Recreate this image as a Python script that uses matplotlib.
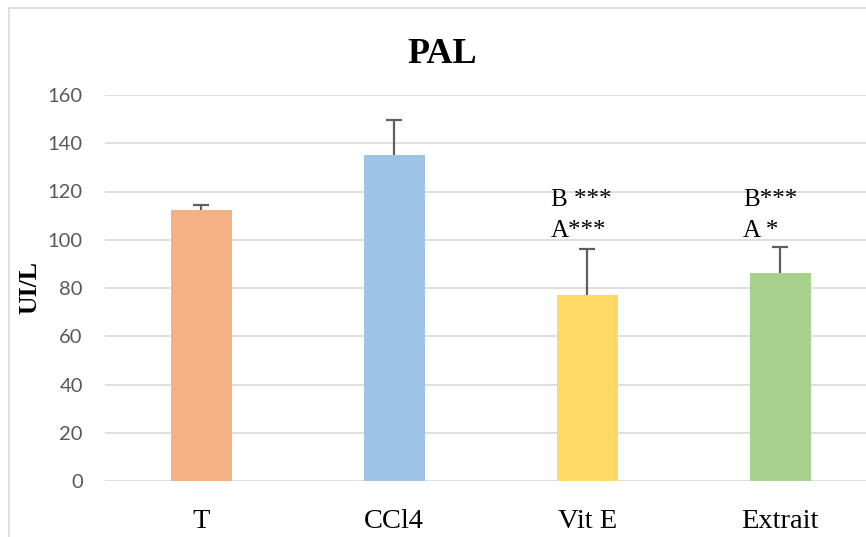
import matplotlib
matplotlib.use("Agg")
import matplotlib.pyplot as plt
from matplotlib.patches import Rectangle

categories = ["T", "CCl4", "Vit E", "Extrait"]
values = [112.3, 135.1, 77.1, 86.2]
errors = [2.1, 14.4, 19.0, 10.9]
colors = ["#F4B183", "#9DC3E6", "#FFD966", "#A9D18E"]
annot_top = ["", "", "B ***", "B***"]
annot_bottom = ["", "", "A***", "A *"]
yticks = [0, 20, 40, 60, 80, 100, 120, 140, 160]

W, H = 866, 537
fig = plt.figure(figsize=(W / 100, H / 100), dpi=100)

# chart frame border
fig.patches.append(Rectangle((9 / W, -0.1), 1.2, 1 - 8 / H + 0.1,
                             transform=fig.transFigure, fill=False,
                             edgecolor="#d9d9d9", linewidth=1.2, zorder=0))

ax = fig.add_axes([105 / W, 1 - 481 / H, (876.5 - 105) / W, (481 - 95) / H])
x = list(range(len(categories)))
ax.bar(x, values, width=0.316, color=colors, zorder=2)
eb = ax.errorbar(x, values, yerr=[[0] * len(errors), errors], fmt="none",
                 ecolor="#5f5f5f", elinewidth=1.6, capsize=6, capthick=1.6, zorder=3)
# keep only the upper caps
for cl in eb[1]:
    ys = cl.get_ydata()
    if all(abs(a - b) < 1e-9 for a, b in zip(ys, values)):
        cl.set_visible(False)

ax.set_xlim(-0.5, len(categories) - 0.5)
ax.set_ylim(0, 160)
ax.set_yticks(yticks)
ax.set_yticklabels([str(t) for t in yticks], family="Lato", fontsize=14.5, color="#595959")
ax.set_xticks(x)
ax.set_xticklabels(categories, family="Liberation Serif", fontsize=20.5, color="black")
ax.tick_params(axis="y", length=0, pad=16)
ax.tick_params(axis="x", length=0, pad=20)
ax.grid(axis="y", color="#d9d9d9", linewidth=1.2, zorder=0)
ax.set_axisbelow(True)
for s in ax.spines.values():
    s.set_visible(False)

for xi, t1, t2 in zip(x, annot_top, annot_bottom):
    if t1:
        ax.text(xi - 0.19, 114, t1, family="Liberation Serif", fontsize=18, va="baseline", ha="left")
    if t2:
        ax.text(xi - 0.19, 101.3, t2, family="Liberation Serif", fontsize=18, va="baseline", ha="left")

fig.text(442 / W, 1 - 62.7 / H, "PAL", family="Liberation Serif", fontweight="bold",
         fontsize=26, ha="center", va="baseline")
fig.text(29.5 / W, 1 - 287 / H, "UI/L", family="Liberation Serif", fontweight="bold",
         fontsize=18.5, ha="center", va="center", rotation=90)

fig.savefig("out.png", dpi=100)
